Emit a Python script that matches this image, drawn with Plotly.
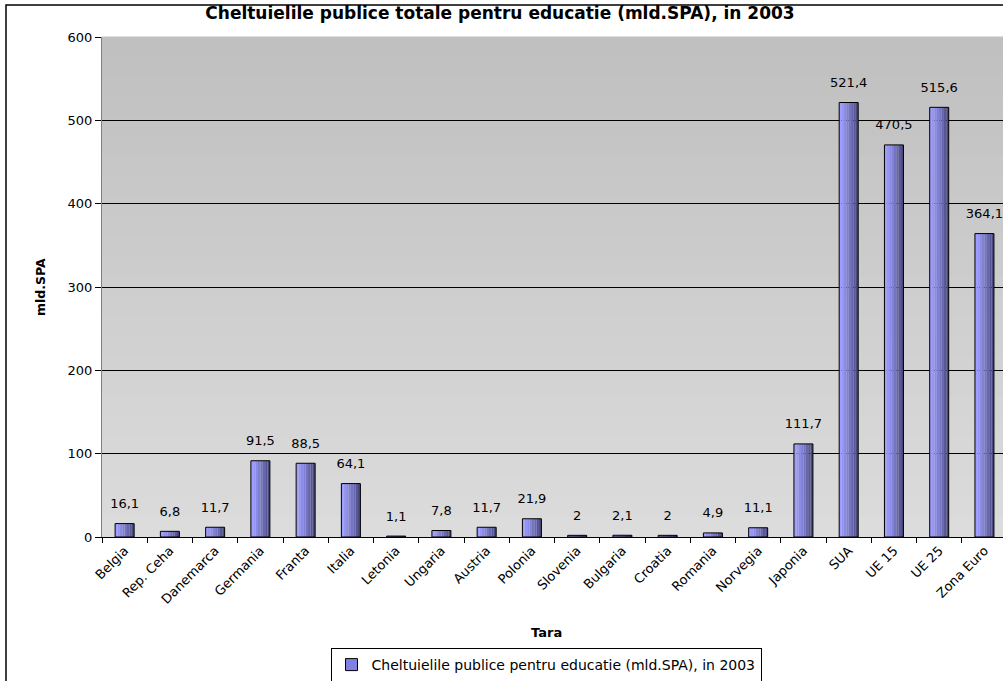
import plotly.graph_objects as go

categories = ["Belgia", "Rep. Ceha", "Danemarca", "Germania", "Franta", "Italia", "Letonia",
              "Ungaria", "Austria", "Polonia", "Slovenia", "Bulgaria", "Croatia", "Romania",
              "Norvegia", "Japonia", "SUA", "UE 15", "UE 25", "Zona Euro"]
values = [16.1, 6.8, 11.7, 91.5, 88.5, 64.1, 1.1, 7.8, 11.7, 21.9, 2, 2.1, 2, 4.9,
          11.1, 111.7, 521.4, 470.5, 515.6, 364.1]
labels = [f"{v:g}".replace(".", ",") for v in values]
series_name = "Cheltuielile publice pentru educatie (mld.SPA), in 2003"
y_ticks = [0, 100, 200, 300, 400, 500, 600]

FONT = "DejaVu Sans, Arial, sans-serif"
BAR_W = 0.42

fig = go.Figure()

# gradient bars (light left -> dark right)
n_slices = 8
c0 = (0x9c, 0x9c, 0xff)
c1 = (0x4a, 0x4a, 0x80)
for i in range(n_slices):
    t = i / (n_slices - 1)
    col = "rgb(%d,%d,%d)" % tuple(int(c0[k] + (c1[k] - c0[k]) * t ** 1.3) for k in range(3))
    fig.add_trace(go.Bar(
        x=categories, y=values, width=BAR_W / n_slices,
        offset=-BAR_W / 2 + i * BAR_W / n_slices,
        marker=dict(color=col, line=dict(width=0)),
        showlegend=False, hoverinfo="skip"))

# outline
fig.add_trace(go.Bar(
    x=categories, y=values, width=BAR_W, offset=-BAR_W / 2,
    name=series_name,
    marker=dict(color="rgba(0,0,0,0)", line=dict(color="black", width=1)),
    showlegend=False))
# value labels
fig.add_trace(go.Scatter(
    x=categories, y=values, mode="markers+text", text=labels,
    textposition="top center", cliponaxis=False,
    marker=dict(size=18, color="rgba(0,0,0,0)"),
    textfont=dict(family=FONT, size=13, color="black"),
    showlegend=False, hoverinfo="skip"))
# legend-only trace
fig.add_trace(go.Bar(
    x=[None], y=[None], name=series_name,
    marker=dict(color="#8080e0", line=dict(color="black", width=1)),
    showlegend=True))

# background gradient strips
n_bg = 25
for i in range(n_bg):
    t = i / (n_bg - 1)
    g = int(0xdc - (0xdc - 0xc0) * t)
    fig.add_shape(type="rect", xref="paper", yref="paper",
                  x0=0, x1=1, y0=i / n_bg, y1=(i + 1) / n_bg + 0.001,
                  fillcolor="rgb(%d,%d,%d)" % (g, g, g), line=dict(width=0), layer="below")

# outer chart border
fig.add_shape(type="rect", xref="paper", yref="paper",
              x0=(6 - 102) / 901, x1=1.02, y0=-0.4, y1=1 + 32 / 500,
              line=dict(color="black", width=1.5), fillcolor="rgba(0,0,0,0)", layer="above")

fig.update_layout(
    width=1003, height=681,
    margin=dict(l=102, r=0, t=37, b=144, autoexpand=False),
    paper_bgcolor="white", plot_bgcolor="#d0d0d0",
    barmode="overlay",
    font=dict(family=FONT, size=13, color="black"),
    title=dict(text="<b>Cheltuielile publice totale pentru educatie (mld.SPA), in 2003</b>",
               x=500 / 1003, xref="container", xanchor="center",
               y=1 - 13 / 681, yref="container", yanchor="middle",
               font=dict(family=FONT, size=17, color="black")),
    showlegend=True,
    legend=dict(orientation="h", x=(546 - 102) / 901, xanchor="center",
                y=-(665 - 537) / 500, yanchor="middle",
                bordercolor="black", borderwidth=1, bgcolor="white",
                font=dict(family=FONT, size=14), itemwidth=30),
    xaxis=dict(range=[-0.5, 19.41], tickangle=-45, ticks="outside", tickson="boundaries",
               ticklen=5, tickcolor="black", showline=True, linecolor="black",
               showgrid=False, automargin=False, tickfont=dict(family=FONT, size=13)),
    yaxis=dict(range=[0, 600], tickvals=y_ticks, ticks="outside", ticklen=6,
               tickcolor="black", showline=True, linecolor="#808080",
               showgrid=True, gridcolor="black", gridwidth=1, zeroline=False,
               automargin=False, tickfont=dict(family=FONT, size=13)),
)

fig.add_annotation(text="<b>mld.SPA</b>", xref="paper", yref="paper",
                   x=(40 - 102) / 901, y=(537 - 287) / 500, textangle=-90,
                   xanchor="center", yanchor="middle",
                   showarrow=False, font=dict(family=FONT, size=12.5))
fig.add_annotation(text="<b>Tara</b>", xref="paper", yref="paper",
                   x=(546 - 102) / 901, y=-(632 - 537) / 500,
                   xanchor="center", yanchor="middle",
                   showarrow=False, font=dict(family=FONT, size=13))

fig.write_html("out.html", config={"displayModeBar": False},
               post_script="document.body.style.margin='0';")
